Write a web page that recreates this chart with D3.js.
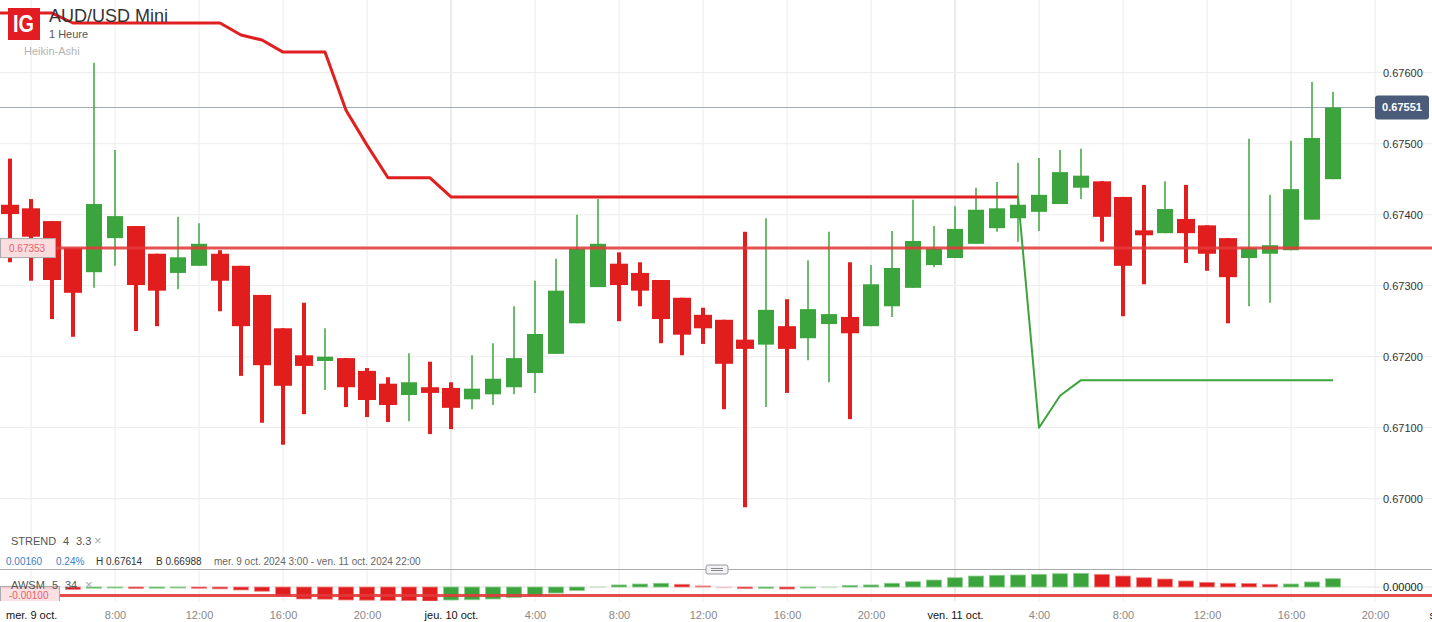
<!DOCTYPE html>
<html>
<head>
<meta charset="utf-8">
<script src="https://cdn.jsdelivr.net/npm/d3@7"></script>
<style>
body { margin: 0; background: #fff; }
svg { display: block; font-family: Arial, "Liberation Sans", sans-serif; }
</style>
</head>
<body>
<svg width="1432" height="622"></svg>
<script>
// AUD/USD Mini, 1 hour Heikin-Ashi bars from mer. 9 oct. 3:00
var firstBar = new Date(2024, 9, 9, 3);
var open  = [0.67414,0.67409,0.67391,0.67353,0.67319,0.67367,0.67384,0.67345,0.67318,0.67328,
             0.67345,0.67328,0.67287,0.67240,0.67202,0.67194,0.67198,0.67180,0.67162,0.67146,
             0.67157,0.67156,0.67140,0.67147,0.67157,0.67177,0.67204,0.67247,0.67298,0.67331,
             0.67318,0.67308,0.67283,0.67259,0.67252,0.67224,0.67217,0.67243,0.67226,0.67246,
             0.67256,0.67243,0.67271,0.67297,0.67329,0.67339,0.67359,0.67381,0.67395,0.67404,
             0.67415,0.67438,0.67447,0.67425,0.67378,0.67374,0.67394,0.67385,0.67367,0.67339,
             0.67345,0.67350,0.67393,0.67450];
var high  = [0.67479,0.67422,0.67391,0.67353,0.67614,0.67491,0.67384,0.67345,0.67397,0.67388,
             0.67350,0.67328,0.67287,0.67240,0.67276,0.67240,0.67198,0.67184,0.67171,0.67205,
             0.67193,0.67164,0.67202,0.67219,0.67271,0.67307,0.67338,0.67400,0.67422,0.67347,
             0.67333,0.67308,0.67283,0.67269,0.67252,0.67376,0.67395,0.67281,0.67336,0.67376,
             0.67333,0.67329,0.67377,0.67421,0.67384,0.67412,0.67438,0.67446,0.67473,0.67480,
             0.67491,0.67493,0.67447,0.67425,0.67442,0.67447,0.67442,0.67385,0.67367,0.67507,
             0.67428,0.67504,0.67587,0.67573];
var low   = [0.67333,0.67307,0.67253,0.67228,0.67297,0.67328,0.67236,0.67243,0.67295,0.67328,
             0.67264,0.67173,0.67107,0.67076,0.67119,0.67153,0.67129,0.67115,0.67108,0.67109,
             0.67091,0.67098,0.67126,0.67132,0.67147,0.67149,0.67204,0.67247,0.67298,0.67250,
             0.67271,0.67219,0.67202,0.67218,0.67126,0.66988,0.67129,0.67149,0.67195,0.67164,
             0.67112,0.67243,0.67256,0.67297,0.67326,0.67339,0.67359,0.67376,0.67362,0.67377,
             0.67415,0.67422,0.67362,0.67257,0.67302,0.67374,0.67332,0.67321,0.67247,0.67271,
             0.67276,0.67350,0.67393,0.67450];
var close = [0.67401,0.67369,0.67308,0.67290,0.67415,0.67398,0.67301,0.67293,0.67340,0.67359,
             0.67307,0.67243,0.67188,0.67159,0.67187,0.67200,0.67157,0.67139,0.67132,0.67164,
             0.67149,0.67128,0.67155,0.67169,0.67198,0.67232,0.67293,0.67352,0.67359,0.67301,
             0.67293,0.67253,0.67231,0.67240,0.67190,0.67211,0.67266,0.67211,0.67267,0.67260,
             0.67233,0.67302,0.67325,0.67363,0.67352,0.67380,0.67407,0.67409,0.67414,0.67428,
             0.67460,0.67455,0.67397,0.67328,0.67371,0.67408,0.67374,0.67345,0.67312,0.67353,
             0.67357,0.67436,0.67508,0.67551];

// STREND 4 3.3, one value per hour starting one bar before firstBar
var strendStart = new Date(2024, 9, 9, 2);
var strend = [0.67684,0.67684,0.67684,0.67684,0.67670,0.67670,0.67670,0.67670,0.67670,0.67670,
              0.67670,0.67670,0.67653,0.67646,0.67629,0.67629,0.67629,0.67547,0.67498,0.67452,
              0.67452,0.67452,0.67425,0.67425,0.67425,0.67425,0.67425,0.67425,0.67425,0.67425,
              0.67425,0.67425,0.67425,0.67425,0.67425,0.67425,0.67425,0.67425,0.67425,0.67425,
              0.67425,0.67425,0.67425,0.67425,0.67425,0.67425,0.67425,0.67425,0.67425,0.67425,
              0.67100,0.67145,0.67167,0.67167,0.67167,0.67167,0.67167,0.67167,0.67167,0.67167,
              0.67167,0.67167,0.67167,0.67167,0.67167];

// AWSM 5 34 (in units of 0.00001)
var awsm = [-14,-18,-22,-30,-14,-10,-18,-14,-8,-16,-22,-35,-50,-106,-141,-143,-153,-155,-159,-161,
            -165,-153,-150,-141,-124,-106,-71,-41,3,24,35,44,32,12,-12,-20,-15,-24,-12,2,
            18,24,44,62,82,109,129,138,141,149,156,161,149,129,109,94,71,55,44,42,
            32,35,59,98];

var priceTicks = [0.670, 0.671, 0.672, 0.673, 0.674, 0.675, 0.676];
var lastPrice = 0.67551;
var levelPrice = 0.67353;
var awsmLevel = -0.00100;
var dayNames = ["dim.", "lun.", "mar.", "mer.", "jeu.", "ven.", "sam."];
var monthNames = ["janv.", "févr.", "mars", "avr.", "mai", "juin", "juil.", "août", "sept.", "oct.", "nov.", "déc."];

var RED = "#e11d1d", GREEN = "#3ca43c";
var svg = d3.select("svg"),
    width = +svg.attr("width"),
    height = +svg.attr("height");

var x = d3.scaleTime()
    .domain([new Date(2024, 9, 9, 0), new Date(2024, 9, 12, 0)])
    .range([-53, 1459]);
var y = d3.scaleLinear().domain([0.670, 0.676]).range([498.7, 72.7]);
var yA = d3.scaleLinear().domain([awsmLevel, 0]).range([595.5, 587]);

var bars = open.map(function (o, i) {
    return {t: d3.timeHour.offset(firstBar, i), o: o, h: high[i], l: low[i], c: close[i]};
});

// grid
var grid = svg.append("g");
var hourTicks = x.ticks(d3.timeHour.every(4));
grid.selectAll(".vg").data(hourTicks).enter().append("line")
    .attr("x1", function (d) { return x(d); }).attr("x2", function (d) { return x(d); })
    .attr("y1", 0).attr("y2", 601)
    .attr("stroke", function (d) { return d.getHours() === 0 ? "#d6d6d6" : "#ececec"; })
    .attr("stroke-width", 1);
grid.selectAll(".hg").data(priceTicks).enter().append("line")
    .attr("x1", 0).attr("x2", width)
    .attr("y1", function (d) { return y(d); }).attr("y2", function (d) { return y(d); })
    .attr("stroke", "#ececec");

// last price line
svg.append("line")
    .attr("x1", 0).attr("x2", 1376)
    .attr("y1", y(lastPrice)).attr("y2", y(lastPrice))
    .attr("stroke", "#a3abb8").attr("stroke-width", 1);

// candles
var cg = svg.append("g");
var candle = cg.selectAll(".c").data(bars).enter().append("g");
candle.append("line")
    .attr("x1", function (d) { return x(d.t); }).attr("x2", function (d) { return x(d.t); })
    .attr("y1", function (d) { return y(d.h); }).attr("y2", function (d) { return y(d.l); })
    .attr("stroke", function (d) { return d.c > d.o ? GREEN : RED; })
    .attr("stroke-width", function (d) { return d.c > d.o ? 1.5 : 4; });
candle.append("rect")
    .attr("x", function (d) { return x(d.t) - (d.c > d.o ? 8 : 9); })
    .attr("width", function (d) { return d.c > d.o ? 16 : 18; })
    .attr("y", function (d) { return y(Math.max(d.o, d.c)); })
    .attr("height", function (d) { return Math.max(2, Math.abs(y(d.o) - y(d.c))); })
    .attr("fill", function (d) { return d.c > d.o ? GREEN : RED; });

// horizontal level
svg.append("line")
    .attr("x1", 55).attr("x2", width)
    .attr("y1", y(levelPrice)).attr("y2", y(levelPrice))
    .attr("stroke", "#e23a3a").attr("stroke-opacity", 0.88).attr("stroke-width", 3);

// supertrend
var st = strend.map(function (v, i) {
    var ci = i - 1;
    return {t: d3.timeHour.offset(strendStart, i), v: v, up: ci >= 0 && v < close[ci]};
});
var k = st.findIndex(function (d) { return d.up; });
var stLine = d3.line().x(function (d) { return x(d.t); }).y(function (d) { return y(d.v); });
svg.append("path").datum(st.slice(0, k))
    .attr("d", stLine).attr("fill", "none")
    .attr("stroke", "#e02020").attr("stroke-width", 3).attr("stroke-linejoin", "round");
svg.append("path").datum(st.slice(k - 1))
    .attr("d", stLine).attr("fill", "none")
    .attr("stroke", "#3ca43c").attr("stroke-width", 2).attr("stroke-linejoin", "round");

// level label
svg.append("rect").attr("x", 0.5).attr("y", y(levelPrice) - 9.5).attr("width", 55).attr("height", 19)
    .attr("fill", "#fbdcdf").attr("stroke", "#aaa");
svg.append("text").attr("x", 9).attr("y", y(levelPrice) + 3.5)
    .attr("font-size", 10).attr("fill", "#e8606a").text(levelPrice.toFixed(5));

// right price axis
var ya = svg.append("g").attr("transform", "translate(1383,0)")
    .call(d3.axisRight(y).tickValues(priceTicks).tickSize(0).tickPadding(0)
        .tickFormat(function (d) { return d.toFixed(5); }));
ya.select(".domain").remove();
ya.selectAll("text").attr("font-size", 11).attr("fill", "#333").attr("font-family", null);

svg.append("rect").attr("x", 1375).attr("y", y(lastPrice) - 12).attr("width", 54).attr("height", 24)
    .attr("rx", 3).attr("fill", "#4b5b7a");
svg.append("text").attr("x", 1402).attr("y", y(lastPrice) + 4).attr("text-anchor", "middle")
    .attr("font-size", 11).attr("font-weight", "bold").attr("fill", "#fff").text(lastPrice.toFixed(5));

// header
svg.append("rect").attr("x", 8).attr("y", 8).attr("width", 32).attr("height", 32).attr("fill", "#e31b23");
svg.append("text").attr("x", 13).attr("y", 32)
    .attr("font-size", 23).attr("font-weight", "bold").attr("fill", "#fff")
    .attr("textLength", 21).attr("lengthAdjust", "spacingAndGlyphs").text("IG");
svg.append("text").attr("x", 49).attr("y", 22).attr("font-size", 18).attr("fill", "#333").text("AUD/USD Mini");
svg.append("text").attr("x", 49).attr("y", 38).attr("font-size", 11).attr("fill", "#555").text("1 Heure");
svg.append("text").attr("x", 24).attr("y", 55).attr("font-size", 11).attr("fill", "#b3b3b3").text("Heikin-Ashi");

// legend and info row
var lg = svg.append("text").attr("x", 11).attr("y", 545).attr("font-size", 11).attr("fill", "#555");
lg.append("tspan").text("STREND");
lg.append("tspan").attr("x", 63).text("4");
lg.append("tspan").attr("x", 76).text("3.3");
lg.append("tspan").attr("x", 94).attr("fill", "#aaa").attr("font-size", 13).text("×");

var info = [
    {x: 6, t: "0.00160", c: "#3a7fc4"},
    {x: 56, t: "0.24%", c: "#3a7fc4"},
    {x: 96, t: "H 0.67614", c: "#333"},
    {x: 156, t: "B 0.66988", c: "#333"},
    {x: 214, t: "mer. 9 oct. 2024 3:00 - ven. 11 oct. 2024 22:00", c: "#666"}
];
svg.selectAll(".info").data(info).enter().append("text")
    .attr("x", function (d) { return d.x; }).attr("y", 564.5)
    .attr("font-size", 10).attr("fill", function (d) { return d.c; })
    .text(function (d) { return d.t; });

// AWSM panel
svg.append("line").attr("x1", 0).attr("x2", width).attr("y1", 569.5).attr("y2", 569.5)
    .attr("stroke", "#aaa");
svg.append("rect").attr("x", 706).attr("y", 565).attr("width", 22).attr("height", 9).attr("rx", 2)
    .attr("fill", "#f2f2f6").attr("stroke", "#999");
svg.append("line").attr("x1", 711).attr("x2", 723).attr("y1", 568.5).attr("y2", 568.5).attr("stroke", "#888");
svg.append("line").attr("x1", 711).attr("x2", 723).attr("y1", 570.5).attr("y2", 570.5).attr("stroke", "#888");

svg.append("clipPath").attr("id", "awclip").append("rect")
    .attr("x", 0).attr("y", 570).attr("width", width).attr("height", 31);
var ap = svg.append("g").attr("clip-path", "url(#awclip)");
ap.append("line").attr("x1", 0).attr("x2", width).attr("y1", yA(0)).attr("y2", yA(0)).attr("stroke", "#e2e2e2");
ap.selectAll(".aw").data(awsm).enter().append("rect")
    .attr("x", function (d, i) { return x(d3.timeHour.offset(firstBar, i)) - 7.5; })
    .attr("width", 15)
    .attr("y", function (d) { return Math.min(yA(d / 1e5), yA(0)); })
    .attr("height", function (d) { return Math.max(1, Math.abs(yA(d / 1e5) - yA(0))); })
    .attr("fill", function (d, i) { return i > 0 && d > awsm[i - 1] ? GREEN : RED; })
    .attr("stroke", function (d, i) { return i > 0 && d > awsm[i - 1] ? "#8fcf8f" : "#f08a8a"; })
    .attr("stroke-width", 0.8)
    .attr("opacity", function (d, i) { return i > 0 && (d > 0) !== (awsm[i - 1] > 0) ? 0.3 : 1; });
ap.append("line").attr("x1", 60).attr("x2", width).attr("y1", yA(awsmLevel)).attr("y2", yA(awsmLevel))
    .attr("stroke", "#e23a3a").attr("stroke-opacity", 0.9).attr("stroke-width", 3);
ap.append("rect").attr("x", 0.5).attr("y", 586.5).attr("width", 59).attr("height", 18)
    .attr("fill", "#fbdcdf").attr("fill-opacity", 0.85).attr("stroke", "#aaa");
ap.append("text").attr("x", 9).attr("y", 599).attr("font-size", 10).attr("fill", "#e8606a")
    .text(awsmLevel.toFixed(5));

var al = svg.append("text").attr("x", 11).attr("y", 589).attr("font-size", 11).attr("fill", "#555");
al.append("tspan").text("AWSM");
al.append("tspan").attr("x", 52).text("5");
al.append("tspan").attr("x", 65).text("34");
al.append("tspan").attr("x", 85).attr("fill", "#aaa").attr("font-size", 13).text("×");
svg.append("text").attr("x", 1383).attr("y", 591).attr("font-size", 11).attr("fill", "#222").text("0.00000");

// time axis
var xa = svg.append("g").attr("transform", "translate(0,601)")
    .call(d3.axisBottom(x).ticks(d3.timeHour.every(4)).tickSize(0).tickPadding(10)
        .tickFormat(function (d) {
            if (d.getHours() === 0) return dayNames[d.getDay()] + " " + d.getDate() + " " + monthNames[d.getMonth()];
            return d.getHours() + ":00";
        }));
xa.select(".domain").remove();
xa.selectAll("text").attr("font-size", 11).attr("font-family", null)
    .attr("fill", function (d) { return d.getHours() === 0 ? "#111" : "#888"; });
// the day label left of the view is pinned to the left edge
xa.selectAll(".tick").each(function (d) {
    var t = d3.select(this).select("text");
    if (x(d) < 0) {
        d3.select(this).attr("transform", "translate(6,0)");
        t.attr("text-anchor", "start");
    }
});
xa.selectAll(".tick").filter(function (d) { return x(d) > 0 && x(d) < 70; }).remove();
</script>
</body>
</html>
